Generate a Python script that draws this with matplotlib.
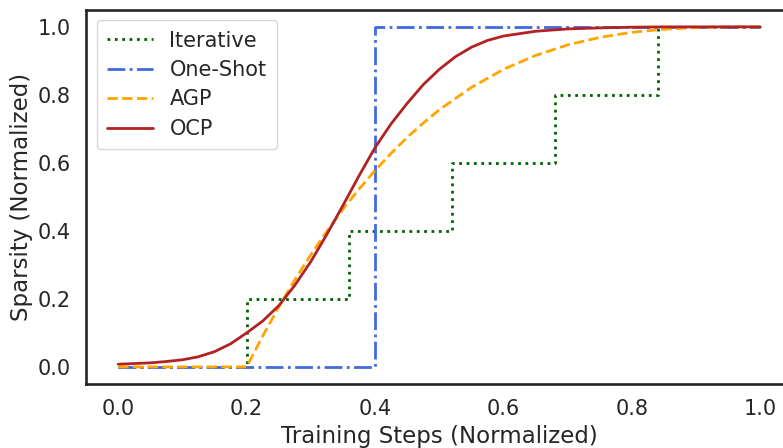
import matplotlib
matplotlib.use("Agg")
import matplotlib.pyplot as plt
import seaborn as sns

# step schedules
iter_x = [0.0, 0.2, 0.36, 0.52, 0.68, 0.84, 1.0]
iter_y = [0.0, 0.2, 0.4, 0.6, 0.8, 1.0, 1.0]

oneshot_x = [0.0, 0.4, 1.0]
oneshot_y = [0.0, 1.0, 1.0]

# AGP
agp_x = [0.0, 0.2, 0.225, 0.25, 0.275, 0.3, 0.325, 0.35, 0.375, 0.4, 0.425, 0.45,
         0.475, 0.5, 0.55, 0.6, 0.65, 0.7, 0.75, 0.8, 0.85, 0.9, 0.95, 1.0]
agp_y = [0.0, 0.0, 0.091, 0.176, 0.256, 0.330, 0.399, 0.464, 0.523, 0.578, 0.628, 0.675,
         0.717, 0.756, 0.822, 0.875, 0.916, 0.947, 0.969, 0.984, 0.993, 0.998, 1.0, 1.0]

# OCP
ocp_x = [0.0, 0.025, 0.05, 0.075, 0.1, 0.125, 0.15, 0.175, 0.2, 0.225, 0.25, 0.275,
         0.3, 0.325, 0.35, 0.375, 0.4, 0.425, 0.45, 0.475, 0.5, 0.525, 0.55, 0.575,
         0.6, 0.65, 0.7, 0.75, 0.8, 0.85, 1.0]
ocp_y = [0.008, 0.010, 0.012, 0.016, 0.021, 0.030, 0.045, 0.068, 0.100, 0.135, 0.180, 0.240,
         0.310, 0.390, 0.475, 0.562, 0.645, 0.715, 0.775, 0.830, 0.875, 0.912, 0.940, 0.960,
         0.973, 0.987, 0.994, 0.997, 0.999, 1.0, 1.0]

sns.set_style("white")
plt.rcParams["font.family"] = ["DejaVu Sans"]

fig = plt.figure(figsize=(7.83, 4.48), dpi=100)
ax = fig.add_axes([0.110, 0.143, 0.902, 0.835])

lw = 2.0
ax.plot(iter_x, iter_y, drawstyle="steps-post", ls=":", color="darkgreen", lw=lw, label="Iterative")
ax.plot(oneshot_x, oneshot_y, drawstyle="steps-post", ls="-.", color="royalblue", lw=lw, label="One-Shot")
ax.plot(agp_x, agp_y, ls="--", color="orange", lw=lw, label="AGP")
ax.plot(ocp_x, ocp_y, ls="-", color="firebrick", lw=lw, label="OCP")

ax.set_xlim(-0.05, 1.05)
ax.set_ylim(-0.05, 1.05)
ax.set_xticks([0.0, 0.2, 0.4, 0.6, 0.8, 1.0])
ax.set_yticks([0.0, 0.2, 0.4, 0.6, 0.8, 1.0])
ax.tick_params(length=0, pad=11, labelsize=15, labelcolor=".15")
for s in ax.spines.values():
    s.set_linewidth(1.9)
    s.set_color(".15")

ax.set_xlabel("Training Steps (Normalized)", fontsize=16.5, color=".15", labelpad=4)
ax.set_ylabel("Sparsity (Normalized)", fontsize=16.5, color=".15", labelpad=3)

leg = ax.legend(loc="upper left", fontsize=15, frameon=True, handlelength=2.2,
                borderpad=0.5, labelspacing=0.45)
leg.get_frame().set_edgecolor("0.8")
for t in leg.get_texts():
    t.set_color(".15")

fig.savefig("out.png", dpi=100)
